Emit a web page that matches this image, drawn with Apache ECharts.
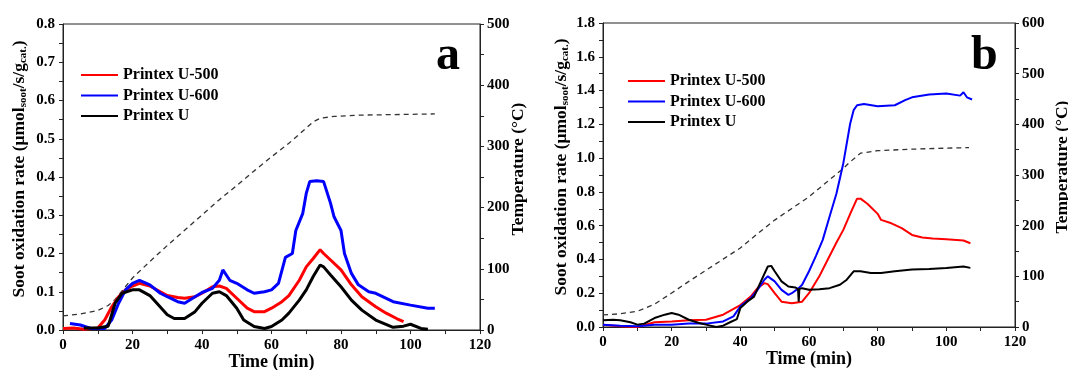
<!DOCTYPE html>
<html>
<head>
<meta charset="utf-8">
<script src="https://cdn.jsdelivr.net/npm/echarts@6/dist/echarts.min.js"></script>
<style>
html,body{margin:0;padding:0;background:#fff;}
#chart{width:1068px;height:370px;}
</style>
</head>
<body>
<div id="chart"></div>
<script>
// ---------- Data (time in min, rate in umol/s/g, temperature in °C) ----------
const seriesNames = ['Printex U-500', 'Printex U-600', 'Printex U'];

// Panel a
const aU500 = [[0,0.004],[3,0.005],[6,0.002],[10,0.005],[12,0.026],[14,0.06],[16,0.087],[18,0.105],[20,0.115],[22,0.122],[25,0.115],[28,0.1],[30,0.09],[33,0.085],[35,0.083],[38,0.087],[40,0.096],[43,0.113],[45,0.115],[47,0.109],[50,0.083],[53,0.057],[55,0.048],[58,0.048],[60,0.057],[63,0.074],[65,0.09],[68,0.13],[70,0.165],[72,0.187],[74,0.21],[75,0.2],[77,0.183],[80,0.157],[83,0.118],[86,0.087],[90,0.061],[93,0.044],[96,0.03],[98,0.022]];
const aU600 = [[2,0.017],[5,0.013],[8,0.004],[12,0.004],[14,0.026],[16,0.07],[18,0.105],[20,0.122],[22,0.13],[25,0.118],[28,0.096],[30,0.087],[33,0.074],[35,0.07],[38,0.087],[40,0.098],[43,0.109],[45,0.13],[46,0.157],[48,0.13],[50,0.122],[53,0.105],[55,0.096],[58,0.1],[60,0.105],[62,0.122],[64,0.19],[66,0.2],[67,0.26],[69,0.305],[70,0.357],[71,0.388],[73,0.39],[75,0.388],[77,0.331],[78,0.296],[80,0.26],[81,0.2],[83,0.148],[85,0.118],[88,0.1],[90,0.096],[95,0.074],[100,0.065],[105,0.057],[107,0.057]];
const aU = [[6,0.005],[10,0.005],[13,0.01],[15,0.07],[17,0.096],[20,0.105],[22,0.105],[25,0.09],[28,0.06],[30,0.04],[32,0.03],[35,0.03],[38,0.048],[40,0.07],[43,0.096],[45,0.1],[47,0.09],[50,0.057],[52,0.026],[55,0.009],[58,0.004],[60,0.009],[63,0.026],[65,0.044],[68,0.078],[70,0.105],[72,0.14],[74,0.17],[75,0.165],[77,0.144],[80,0.113],[83,0.078],[86,0.052],[90,0.026],[95,0.007],[98,0.01],[100,0.015],[103,0.004],[105,0.002]];
const aTemp = [[0,23],[5,26],[10,32],[13,40],[15,50],[20,85],[25,112],[30,138],[35,163],[40,188],[45,213],[50,236],[55,260],[60,283],[65,305],[70,330],[72,340],[74,346],[78,349],[85,351],[95,352],[107,353]];

// Panel b
const bU500 = [[0,0.014],[5,0.004],[10,0.0],[15,0.028],[20,0.033],[25,0.04],[30,0.043],[35,0.073],[40,0.13],[43,0.18],[45,0.23],[47,0.26],[48,0.254],[50,0.2],[52,0.15],[55,0.14],[58,0.15],[60,0.2],[63,0.3],[65,0.38],[68,0.5],[70,0.575],[72,0.67],[74,0.76],[75,0.76],[77,0.73],[80,0.67],[81,0.634],[84,0.614],[87,0.585],[90,0.545],[93,0.53],[96,0.524],[100,0.52],[105,0.512],[107,0.496]];
const bU600 = [[0,0.014],[5,0.008],[10,0.004],[15,0.014],[20,0.014],[25,0.02],[30,0.02],[35,0.033],[38,0.063],[40,0.122],[43,0.17],[45,0.22],[47,0.28],[48,0.3],[50,0.27],[52,0.22],[54,0.19],[55,0.2],[57,0.23],[58,0.25],[60,0.33],[62,0.42],[64,0.516],[66,0.654],[68,0.79],[70,0.97],[72,1.205],[73,1.284],[74,1.313],[76,1.32],[80,1.307],[85,1.313],[88,1.343],[90,1.36],[95,1.377],[100,1.382],[104,1.37],[105,1.39],[106,1.36],[107.5,1.347]];
const bU = [[0,0.04],[3,0.043],[5,0.04],[8,0.028],[10,0.014],[12,0.02],[15,0.053],[18,0.073],[20,0.083],[22,0.073],[25,0.043],[28,0.024],[30,0.014],[33,0.0],[35,0.008],[37,0.028],[39,0.047],[40,0.112],[42,0.15],[44,0.18],[46,0.27],[48,0.358],[49,0.362],[50,0.33],[52,0.27],[54,0.24],[56,0.234],[56.8,0.225],[57,0.15],[57.2,0.225],[58,0.23],[60,0.22],[63,0.224],[66,0.23],[69,0.25],[71,0.28],[73,0.33],[75,0.33],[78,0.32],[81,0.32],[85,0.33],[90,0.34],[95,0.343],[100,0.35],[105,0.358],[107,0.35]];
const bTemp = [[0,24],[5,26],[10,31],[15,45],[20,67],[25,90],[30,112],[35,134],[40,156],[45,184],[50,211],[55,234],[60,257],[65,285],[70,313],[72,326],[75,343],[80,348],[90,351],[100,353],[106.6,354]];

// Axis settings: tick step (incl. minor ticks) and label step
const timeTicks = {min: 0, max: 120, interval: 10, labelStep: 20};
const aRateAxis = {min: 0, max: 0.8, interval: 0.05, labelStep: 0.1};
const aTempAxis = {min: 0, max: 500, interval: 50, labelStep: 100};
const bRateAxis = {min: 0, max: 1.8, interval: 0.1, labelStep: 0.2};
const bTempAxis = {min: 0, max: 600, interval: 50, labelStep: 100};

// ---------- Styling ----------
const FONT = '"Liberation Serif", "Times New Roman", serif';
const colors = {'Printex U-500': '#ff0000', 'Printex U-600': '#0000ff', 'Printex U': '#000000'};
const axisLine = {show: true, lineStyle: {color: '#222', width: 1}};
const axisTick = {show: true, inside: false, length: 4, lineStyle: {color: '#222', width: 1}};
const tickLabel = {color: '#000', fontFamily: FONT, fontWeight: 'bold', fontSize: 15};

function onStep(v, step) {
  const r = v / step;
  return Math.abs(r - Math.round(r)) < 1e-6;
}

const rateName = '{m|Soot oxidation rate (μmol}{s|soot}{m|/s/g}{s|cat.}{m|)}';
const rateNameStyle = {
  padding: [0, 0, 0, 16],
  rich: {
    m: {fontFamily: FONT, fontWeight: 'bold', fontSize: 17.5, color: '#000', lineHeight: 20, verticalAlign: 'middle'},
    s: {fontFamily: FONT, fontWeight: 'bold', fontSize: 11, color: '#000', lineHeight: 11, verticalAlign: 'bottom'}
  }
};
const tempNameStyle = {fontFamily: FONT, fontWeight: 'bold', fontSize: 17.5, color: '#000', padding: [0, 0, 0, 16]};

function xAxis(gridIndex) {
  return {
    type: 'value', gridIndex, min: timeTicks.min, max: timeTicks.max, interval: timeTicks.interval,
    name: 'Time (min)', nameLocation: 'middle', nameGap: 23, nameMoveOverlap: false,
    nameTextStyle: {fontFamily: FONT, fontWeight: 'bold', fontSize: 18, color: '#000'},
    axisLine, axisTick, splitLine: {show: false},
    axisLabel: Object.assign({margin: 8, formatter: v => onStep(v, timeTicks.labelStep) ? String(Math.round(v)) : ''}, tickLabel)
  };
}
function yAxis(gridIndex, cfg, pos, isRate, gap) {
  return {
    type: 'value', gridIndex, position: pos, min: cfg.min, max: cfg.max, interval: cfg.interval,
    name: isRate ? rateName : 'Temperature (°C)', nameLocation: 'middle', nameGap: gap, nameRotate: 90,
    nameMoveOverlap: false,
    nameTextStyle: isRate ? rateNameStyle : tempNameStyle,
    axisLine, axisTick, splitLine: {show: false},
    axisLabel: Object.assign({margin: isRate ? 8 : 7, showMinLabel: true, showMaxLabel: true,
      formatter: v => onStep(v, cfg.labelStep) ? (isRate ? v.toFixed(1) : String(Math.round(v))) : ''}, tickLabel)
  };
}

function rateSeries(name, data, xi, yi, w) {
  return {name, type: 'line', data, xAxisIndex: xi, yAxisIndex: yi, showSymbol: false, symbol: 'none',
    lineStyle: {color: colors[name], width: w}, itemStyle: {color: colors[name]}, z: 3};
}
function tempSeries(data, xi, yi) {
  return {name: 'Temperature', type: 'line', data, xAxisIndex: xi, yAxisIndex: yi, showSymbol: false, symbol: 'none',
    lineStyle: {color: '#333', width: 1.3, type: [5, 4]}, z: 2};
}

const legendCommon = {
  orient: 'vertical', data: seriesNames, icon: 'rect', itemWidth: 37, itemHeight: 2, itemGap: 4.5, padding: 0,
  textStyle: {fontFamily: FONT, fontWeight: 'bold', fontSize: 16, color: '#000', lineHeight: 16},
  selectedMode: false
};

const option = {
  animation: false,
  backgroundColor: '#fff',
  grid: [
    {left: 63, top: 24, width: 417, height: 306, show: true, borderColor: '#222', borderWidth: 1, outerBoundsMode: 'none', containLabel: false},
    {left: 603, top: 23, width: 412, height: 304, show: true, borderColor: '#222', borderWidth: 1, outerBoundsMode: 'none', containLabel: false}
  ],
  title: [
    {text: 'a', left: 436, top: 33, padding: 0, textStyle: {fontFamily: FONT, fontWeight: 'bold', fontSize: 48, color: '#000'}},
    {text: 'b', left: 971, top: 33, padding: 0, textStyle: {fontFamily: FONT, fontWeight: 'bold', fontSize: 48, color: '#000'}}
  ],
  legend: [
    Object.assign({left: 81, top: 67}, legendCommon),
    Object.assign({left: 628, top: 73}, legendCommon)
  ],
  xAxis: [xAxis(0), xAxis(1)],
  yAxis: [
    yAxis(0, aRateAxis, 'left', true, 34),
    yAxis(0, aTempAxis, 'right', false, 29),
    yAxis(1, bRateAxis, 'left', true, 32),
    yAxis(1, bTempAxis, 'right', false, 38)
  ],
  series: [
    tempSeries(aTemp, 0, 1),
    rateSeries('Printex U-500', aU500, 0, 0, 3),
    rateSeries('Printex U-600', aU600, 0, 0, 3),
    rateSeries('Printex U', aU, 0, 0, 3),
    tempSeries(bTemp, 1, 3),
    rateSeries('Printex U-500', bU500, 1, 2, 2),
    rateSeries('Printex U-600', bU600, 1, 2, 2),
    rateSeries('Printex U', bU, 1, 2, 2)
  ]
};

const chart = echarts.init(document.getElementById('chart'), null, {renderer: 'canvas'});
chart.setOption(option);
</script>
</body>
</html>
